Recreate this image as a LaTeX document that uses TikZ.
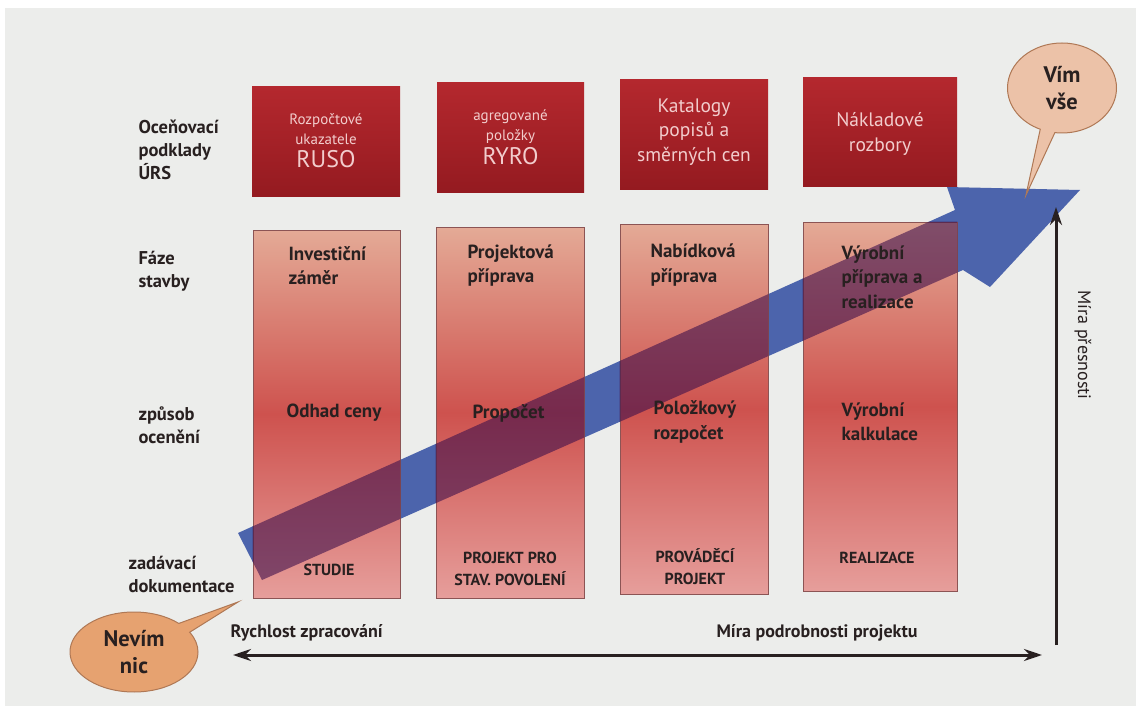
\documentclass[tikz,border=0pt]{standalone}
\usepackage{fontspec}
\setmainfont{PT Sans}
\usetikzlibrary{arrows.meta,shapes.callouts}
\definecolor{paperGray}{RGB}{236,237,235}
\definecolor{priceTop}{RGB}{180,40,46}
\definecolor{priceBottom}{RGB}{148,26,32}
\definecolor{phaseTop}{RGB}{228,170,150}
\definecolor{phaseMid}{RGB}{206,82,78}
\definecolor{phaseBottom}{RGB}{230,158,155}
\definecolor{phaseEdge}{RGB}{140,84,84}
\definecolor{arrowBlue}{RGB}{76,100,172}
\definecolor{overlapTint}{RGB}{62,16,76}
\definecolor{inkDark}{RGB}{40,32,32}
\definecolor{pinkWhite}{RGB}{242,205,205}
\definecolor{bubbleOrange}{RGB}{230,162,112}
\definecolor{bubbleLight}{RGB}{236,194,168}
\definecolor{bubbleEdge}{RGB}{175,120,85}

\begin{document}
\begin{tikzpicture}
[x=1pt,y=-1pt,
  priceBox/.style={rectangle,inner sep=0pt,top color=priceTop,bottom color=priceBottom},%
  priceText/.style={align=center,text=pinkWhite,font=\fontsize{15}{20}\selectfont},%
  phaseBox/.style={rectangle,inner sep=0pt,draw=phaseEdge,line width=0.8pt,
    top color=phaseTop,bottom color=phaseBottom,middle color=phaseMid},%
  rowLabel/.style={anchor=west,align=left,text=inkDark,font=\bfseries\fontsize{18.5}{23}\selectfont},%
  boxText/.style={anchor=west,align=left,text=inkDark,font=\bfseries\fontsize{19}{24.5}\selectfont},%
  capsText/.style={align=center,text=inkDark,font=\bfseries\fontsize{16}{22}\selectfont},%
  bubble/.style={ellipse callout,callout pointer arc=16,draw=bubbleEdge,line width=1pt,
    inner sep=0pt,align=center,text=inkDark,font=\bfseries\fontsize{22.5}{27}\selectfont},%
  axisArrow/.style={line width=3pt,draw=inkDark,arrows={-Stealth[length=18pt,width=12pt]}},%
  axisText/.style={text=inkDark,font=\bfseries\fontsize{18}{21}\selectfont}]
%% paper
\useasboundingbox (0,0) rectangle (1136,706);
\fill[white] (0,0) rectangle (1136,706);
\fill[paperGray] (5,8) rectangle (1136,706);
%% corners of the wide arrow
\foreach \pname/\x/\y in {
  a1/238/533, a2/955/210, a3/947/187, a4/1080/190,
  a5/990/287, a6/963/270, a7/262/580}
{
  \coordinate (\pname) at (\x,\y);
}
\fill[arrowBlue] (a1) -- (a2) -- (a3) -- (a4) -- (a5) -- (a6) -- (a7) -- cycle;
%% upper boxes
\foreach \nodename/\x/\y/\w/\h in {
  u1/326/142/148/110, u2/510.5/138/147/110,
  u3/694/135/148/110, u4/880/132.5/154/109}
{
  \node (\nodename) at (\x,\y) [priceBox,minimum width=\w,minimum height=\h] {};
}
%% lower boxes
\foreach \nodename/\x/\y/\w/\h in {
  p1/326.5/414/147/368, p2/510/412.5/148/371,
  p3/694/409/148/370, p4/880/406.5/154/369}
{
  \node (\nodename) at (\x,\y) [phaseBox,minimum width=\w,minimum height=\h] {};
}
%% arrow seen through the boxes
\begin{scope}
\clip (p1.north west) rectangle (p1.south east)
  (p2.north west) rectangle (p2.south east)
  (p3.north west) rectangle (p3.south east)
  (p4.north west) rectangle (p4.south east);
\fill[overlapTint,fill opacity=0.6] (a1) -- (a2) -- (a3) -- (a4) -- (a5) -- (a6) -- (a7) -- cycle;
\end{scope}
%% texts of the upper boxes
\node (u1t) at (326,141) [priceText] {Rozpočtové\\ukazatele\\[3pt]{\fontsize{24}{24}\selectfont RUSO}};
\node (u2t) at (510.5,137) [priceText] {agregované\\položky\\[3pt]{\fontsize{24}{24}\selectfont RYRO}};
\node (u3t) at (694,132) [priceText,font=\fontsize{19.5}{24.5}\selectfont] {Katalogy\\popisů a\\směrných cen};
\node (u4t) at (880,134) [priceText,font=\fontsize{19.5}{24.5}\selectfont] {Nákladové\\rozbory};
%% row labels
\node (r1) at (135,150) [rowLabel] {Oceňovací\\podklady\\ÚRS};
\node (r2) at (135,271) [rowLabel] {Fáze\\stavby};
\node (r3) at (135,425) [rowLabel] {způsob\\ocenění};
\node (r4) at (125,574) [rowLabel] {zadávací\\dokumentace};
%% phases
\node (f1) at (285,265.5) [boxText] {Investiční\\záměr};
\node (f2) at (464,265.5) [boxText] {Projektová\\příprava};
\node (f3) at (647,265) [boxText] {Nabídková\\příprava};
\node (f4) at (838,277) [boxText] {Výrobní\\příprava a\\realizace};
%% pricing methods
\node (m1) at (283,413) [boxText] {Odhad ceny};
\node (m2) at (469,413) [boxText] {Propočet};
\node (m3) at (650,422) [boxText] {Položkový\\rozpočet};
\node (m4) at (838,422) [boxText] {Výrobní\\kalkulace};
%% documentation
\node (d1) at (329,570) [capsText] {STUDIE};
\node (d2) at (510,569) [capsText] {PROJEKT PRO\\STAV. POVOLENÍ};
\node (d3) at (695,567) [capsText] {PROVÁDĚCÍ\\PROJEKT};
\node (d4) at (877,558) [capsText] {REALIZACE};
%% axes
\coordinate (xL) at (233,655);
\coordinate (xR) at (1042,655);
\coordinate (yB) at (1056,645);
\coordinate (yT) at (1056,207);
\draw[axisArrow,arrows={Stealth[length=18pt,width=12pt]-Stealth[length=18pt,width=12pt]}] (xL) -- (xR);
\draw[axisArrow] (yB) -- (yT);
\node (speed) at (227,633) [axisText,anchor=west] {Rychlost zpracování};
\node (detail) at (817,633) [axisText] {Míra podrobnosti projektu};
\node (accuracy) at (1083,345) [axisText,rotate=-90,font=\fontsize{18}{21}\selectfont] {Míra přesnosti};
%% speech bubbles
\coordinate (tipL) at (238,602);
\coordinate (tipR) at (1026,195);
\node (nevim) at (134,652) [bubble,fill=bubbleOrange,minimum width=128,minimum height=80,
  callout absolute pointer={(tipL)}] {Nevím\\nic};
\node (vim) at (1062,88) [bubble,fill=bubbleLight,minimum width=109,minimum height=90,
  callout absolute pointer={(tipR)}] {Vím\\vše};
\end{tikzpicture}
\end{document}
